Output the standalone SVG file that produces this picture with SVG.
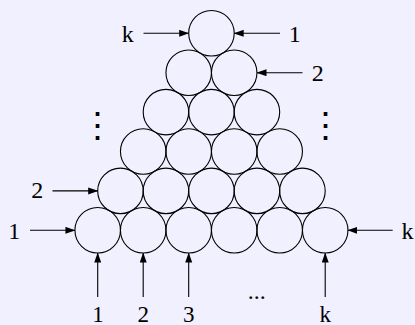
<svg xmlns="http://www.w3.org/2000/svg" width="415" height="325" viewBox="0 0 415 325">
<defs>
<marker id="ah" markerUnits="userSpaceOnUse" markerWidth="10" markerHeight="8" refX="9.5" refY="3.5" orient="auto">
<path d="M0,0 L10,3.5 L0,7 Z" fill="#000"/>
</marker>
<style>
.c{fill:none;stroke:#000;stroke-width:1.1}
.a{stroke:#000;stroke-width:1.1;fill:none;marker-end:url(#ah)}
.t{font-family:"Liberation Serif","DejaVu Serif",serif;font-size:24px;fill:#000;text-anchor:middle}
.b{font-size:23px}
.v{font-family:"DejaVu Serif",serif;font-size:35px;fill:#000;text-anchor:middle}
</style>
</defs>
<rect width="415" height="325" fill="#f0f0ff"/>
<g id="circles">
<g id="row6">
<circle class="c" cx="97.7" cy="230.3" r="22.75"/>
<circle class="c" cx="143.2" cy="230.3" r="22.75"/>
<circle class="c" cx="188.7" cy="230.3" r="22.75"/>
<circle class="c" cx="234.2" cy="230.3" r="22.75"/>
<circle class="c" cx="279.7" cy="230.3" r="22.75"/>
<circle class="c" cx="325.2" cy="230.3" r="22.75"/>
</g>
<g id="row5">
<circle class="c" cx="120.45" cy="190.9" r="22.75"/>
<circle class="c" cx="165.95" cy="190.9" r="22.75"/>
<circle class="c" cx="211.45" cy="190.9" r="22.75"/>
<circle class="c" cx="256.95" cy="190.9" r="22.75"/>
<circle class="c" cx="302.45" cy="190.9" r="22.75"/>
</g>
<g id="row4">
<circle class="c" cx="143.2" cy="151.5" r="22.75"/>
<circle class="c" cx="188.7" cy="151.5" r="22.75"/>
<circle class="c" cx="234.2" cy="151.5" r="22.75"/>
<circle class="c" cx="279.7" cy="151.5" r="22.75"/>
</g>
<g id="row3">
<circle class="c" cx="165.95" cy="112.1" r="22.75"/>
<circle class="c" cx="211.45" cy="112.1" r="22.75"/>
<circle class="c" cx="256.95" cy="112.1" r="22.75"/>
</g>
<g id="row2">
<circle class="c" cx="188.7" cy="72.7" r="22.75"/>
<circle class="c" cx="234.2" cy="72.7" r="22.75"/>
</g>
<g id="row1">
<circle class="c" cx="211.45" cy="33.3" r="22.75"/>
</g>
</g>
<g id="connectors">
<line class="a" x1="143.5" y1="33.3" x2="188.7" y2="33.3"/>
<line class="a" x1="280" y1="33.3" x2="234.2" y2="33.3"/>
<line class="a" x1="302.5" y1="72.7" x2="257" y2="72.7"/>
<line class="a" x1="52.5" y1="190.9" x2="97.7" y2="190.9"/>
<line class="a" x1="30" y1="230.3" x2="74.95" y2="230.3"/>
<line class="a" x1="392.7" y1="230.3" x2="347.95" y2="230.3"/>
<line class="a" x1="97.7" y1="297" x2="97.7" y2="253.05"/>
<line class="a" x1="143.2" y1="297" x2="143.2" y2="253.05"/>
<line class="a" x1="188.7" y1="297" x2="188.7" y2="253.05"/>
<line class="a" x1="325.2" y1="297" x2="325.2" y2="253.05"/>
</g>
<g id="labels">
<text class="t" x="127.8" y="42">k</text>
<text class="t" x="294.7" y="41.5">1</text>
<text class="t" x="317.8" y="81">2</text>
<text class="t" x="37.2" y="197.5">2</text>
<text class="t" x="14.3" y="238.5">1</text>
<text class="t" x="407.5" y="238.5">k</text>
<text class="t b" x="98" y="321.5">1</text>
<text class="t b" x="143.2" y="321.5">2</text>
<text class="t b" x="188.7" y="321.5">3</text>
<text class="t b" x="325.2" y="321.5">k</text>
<text class="t" x="256.7" y="299">...</text>
<text class="v" x="97.7" y="136.5">⋮</text>
<text class="v" x="325" y="136.5">⋮</text>
</g>
</svg>
